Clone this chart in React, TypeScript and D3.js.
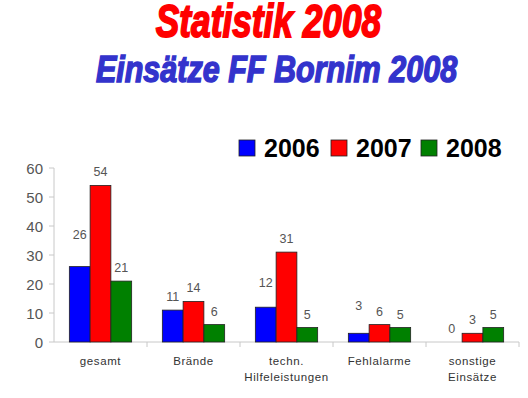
import React from "react";
import * as d3 from "d3";

const categories = ["gesamt", "Brände", "techn.\nHilfeleistungen", "Fehlalarme", "sonstige\nEinsätze"];
const seriesNames = ["2006", "2007", "2008"];
const values2006 = [26, 11, 12, 3, 0];
const values2007 = [54, 14, 31, 6, 3];
const values2008 = [21, 6, 5, 5, 5];
const yTicks = [0, 10, 20, 30, 40, 50, 60];
const colors = ["#0000ff", "#ff0000", "#008000"];
// extra lift of some value labels (styling, px)
const labelLift2006 = [19, 0, 11, 14, 0];

export default function App() {
  const W = 528, H = 398;
  const left = 54, right = 519, top = 168, bottom = 342;
  const series = [values2006, values2007, values2008];
  const y = d3.scaleLinear().domain([0, 60]).range([bottom, top]);
  const x0 = d3.scaleBand<number>().domain(categories.map((_, i) => i)).range([left, right]).paddingInner(0.33).paddingOuter(0.165);
  const x1 = d3.scaleBand<number>().domain([0, 1, 2]).range([0, x0.bandwidth()]);
  const step = x0.step();
  const font = "Arial, 'Liberation Sans', sans-serif";
  return (
    <svg width={W} height={H} style={{ position: "absolute", left: 0, top: 0, background: "#fff" }}>
      <g transform="translate(268.5,37) scale(0.75,1)">
        <text x={0} y={0} textAnchor="middle" fontFamily={font} fontWeight="bold" fontStyle="italic" fontSize={47} fill="#ff0000" stroke="#ff0000" strokeWidth={1.8}>Statistik 2008</text>
      </g>
      <g transform="translate(276.5,82) scale(0.825,1)">
        <text x={0} y={0} textAnchor="middle" fontFamily={font} fontWeight="bold" fontStyle="italic" fontSize={37} fill="#3333cc" stroke="#3333cc" strokeWidth={1.5}>Einsätze FF Bornim 2008</text>
      </g>
      {/* legend */}
      {seriesNames.map((s, i) => {
        const lx = [239, 331, 421][i];
        return (
          <g key={s}>
            <rect x={lx} y={140} width={16} height={16} fill={colors[i]} stroke="#222" strokeWidth={0.8} />
            <text x={lx + 25} y={157} fontFamily={font} fontWeight="bold" fontSize={25} fill="#000">{s}</text>
          </g>
        );
      })}
      {/* axes */}
      <line x1={left} x2={left} y1={top} y2={bottom} stroke="#c8c8c8" />
      <line x1={left} x2={right} y1={bottom} y2={bottom} stroke="#c8c8c8" />
      {yTicks.map(t => (
        <g key={t}>
          <line x1={left - 5} x2={left} y1={y(t)} y2={y(t)} stroke="#c8c8c8" />
          <text x={43} y={y(t) + 5.5} textAnchor="end" fontFamily={font} fontSize={15} fill="#555">{t}</text>
        </g>
      ))}
      {categories.map((_, i) => (
        <line key={i} x1={left + step * (i + 1)} x2={left + step * (i + 1)} y1={bottom} y2={bottom + 5} stroke="#c8c8c8" />
      ))}
      {categories.map((c, i) => {
        const cx = left + step * (i + 0.5);
        return (
          <text key={c} x={cx} y={365} textAnchor="middle" fontFamily={font} fontSize={11.5} fill="#333" letterSpacing={0.6}>
            {c.split("\n").map((ln, k) => (
              <tspan key={k} x={cx} dy={k === 0 ? 0 : 15.5}>{ln}</tspan>
            ))}
          </text>
        );
      })}
      {/* bars */}
      {series.map((vals, si) => vals.map((v, ci) => {
        const bx = (x0(ci) ?? 0) + (x1(si) ?? 0);
        const bw = x1.bandwidth();
        return (
          <g key={`${si}-${ci}`}>
            {v > 0 && <rect x={bx} y={y(v)} width={bw} height={bottom - y(v)} fill={colors[si]} stroke="#222" strokeWidth={0.8} />}
            <text x={bx + bw / 2} y={y(v) - 9 - (si === 0 ? labelLift2006[ci] : 0)} textAnchor="middle" fontFamily={font} fontSize={12.5} fill="#555">{v}</text>
          </g>
        );
      }))}
    </svg>
  );
}
